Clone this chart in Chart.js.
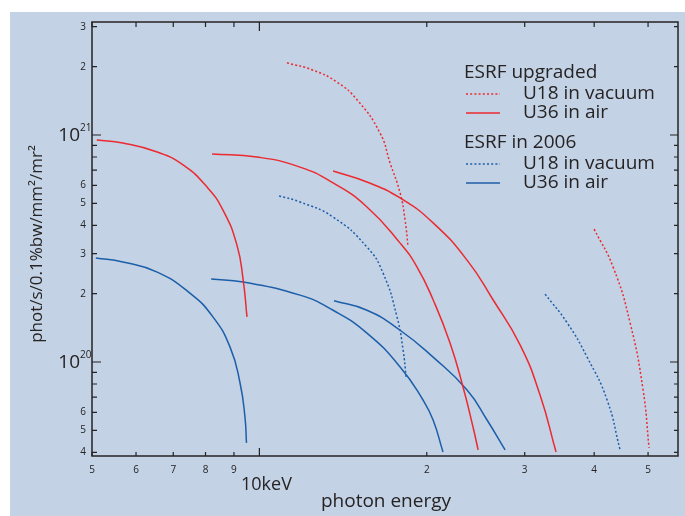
<!DOCTYPE html>
<html>
<head>
<meta charset="utf-8">
<script src="https://cdn.jsdelivr.net/npm/chart.js@4.4.1/dist/chart.umd.min.js"></script>
<style>
body{margin:0;background:#fff;}
</style>
</head>
<body>
<canvas id="myChart" width="685" height="516"></canvas>
<script>
// photon energy in keV, brilliance in phot/s/0.1%bw/mm2/mr2
let newU36aE=[5.10,5.68,6.55,7.29,8.05,8.60,9.11,9.35,9.50]
let newU36aF=[9.50e20,9.22e20,8.42e20,7.38e20,5.90e20,4.67e20,3.28e20,2.30e20,1.58e20]
let newU36bE=[8.22,9.90,11.83,13.57,15.61,17.91,19.21,20.53,22.03,23.24,24.22,24.74]
let newU36bF=[8.25e20,8.00e20,7.22e20,6.15e20,4.82e20,3.34e20,2.62e20,1.88e20,1.21e20,7.76e19,5.17e19,4.10e19]
let newU36cE=[13.57,15.61,17.91,20.53,23.63,26.31,29.43,31.97,34.16]
let newU36cF=[6.94e20,6.21e20,5.28e20,4.10e20,2.81e20,1.88e20,1.19e20,7.15e19,4.01e19]
let newU18aE=[11.21,12.49,13.79,14.98,16.48,17.18,17.91,18.28,18.51]
let newU18aF=[2.08e21,1.93e21,1.71e21,1.43e21,1.02e21,7.53e20,5.55e20,4.22e20,3.21e20]
let newU18bE=[39.99,43.26,46.41,48.98,50.21]
let newU18bF=[3.85e20,2.62e20,1.49e20,7.53e19,4.18e19]

let oldU36aE=[5.08,5.68,6.55,7.50,8.25,8.86,9.23,9.42,9.48]
let oldU36aF=[2.87e20,2.76e20,2.49e20,2.01e20,1.58e20,1.16e20,8.08e19,5.72e19,4.40e19]
let oldU36bE=[8.19,9.35,11.83,13.57,15.61,17.91,19.69,20.53,21.39]
let oldU36bF=[2.32e20,2.25e20,1.97e20,1.69e20,1.34e20,9.51e19,6.80e19,5.55e19,4.01e19]
let oldU36cE=[13.62,15.61,17.91,20.53,23.63,25.67,27.66]
let oldU36cF=[1.86e20,1.69e20,1.38e20,1.05e20,7.53e19,5.55e19,4.10e19]
let oldU18aE=[10.85,11.83,13.57,15.61,16.68,17.68,18.13,18.36]
let oldU18aF=[5.39e20,5.07e20,4.35e20,3.21e20,2.47e20,1.58e20,1.13e20,8.59e19]
let oldU18bE=[32.64,35.75,38.85,42.20,44.53]
let oldU18bF=[1.99e20,1.49e20,1.05e20,6.80e19,4.10e19]

let xTickVals=[5,6,7,8,9,10,20,30,40,50]
let xTickLabels=['5','6','7','8','9','','2','3','4','5']
let yTickVals=[4e19,5e19,6e19,7e19,8e19,9e19,1e20,2e20,3e20,4e20,5e20,6e20,7e20,8e20,9e20,1e21,2e21,3e21]
let yTickLabels=['4','5','6','','','','10^20','2','3','4','5','6','','','','10^21','2','3']

let legendGroups=['ESRF upgraded','ESRF in 2006']
let legendItems=['U18 in vacuum','U36 in air']

const RED='#ec2a30'
const BLUE='#1c5ea9'
const INK='#262324'
const FONT='"Open Sans", sans-serif'

function pts(E,F){
    return E.map((e,i)=>({x:e,y:F[i]}))
}
function ds(E,F,color,dotted){
    return {
        data:pts(E,F),
        borderColor:color,
        borderWidth:1.5,
        borderDash:dotted?[2,2.2]:[],
        pointRadius:0,
        fill:false,
        tension:0.5
    }
}

const frame={
    id:'frame',
    beforeDraw(ch){
        let c=ch.ctx
        c.save()
        c.fillStyle='#c3d2e4'
        c.fillRect(10,12,675,504)
        c.restore()
    },
    afterDraw(ch){
        let c=ch.ctx
        let a=ch.chartArea
        let xs=ch.scales.x
        let ys=ch.scales.y
        c.save()
        c.strokeStyle=INK
        c.fillStyle=INK
        c.lineWidth=1.5
        c.strokeRect(a.left,a.top,a.right-a.left,a.bottom-a.top)
        c.lineWidth=1.2

        // x ticks, bottom and top, pointing inwards
        xTickVals.forEach((v,i)=>{
            let px=xs.getPixelForValue(v)
            let big=(v==10)
            c.beginPath()
            c.moveTo(px,a.bottom);c.lineTo(px,a.bottom-(big?8:4))
            c.moveTo(px,a.top);c.lineTo(px,a.top+(big?9:5))
            c.stroke()
            c.font='10px '+FONT
            c.textAlign='center'
            c.textBaseline='middle'
            c.fillText(xTickLabels[i],px,470)
        })

        // y ticks, left and right
        yTickVals.forEach((v,i)=>{
            let py=ys.getPixelForValue(v)
            let lab=yTickLabels[i]
            let big=lab.indexOf('^')>=0
            c.beginPath()
            c.moveTo(a.left,py);c.lineTo(a.left+(big?9:5),py)
            c.moveTo(a.right,py);c.lineTo(a.right-(big?8:4),py)
            c.stroke()
            c.textBaseline='middle'
            if(big){
                let parts=lab.split('^')
                c.font='19px '+FONT
                c.textAlign='right'
                c.fillText(parts[0],80,py+1)
                c.font='10px '+FONT
                c.textAlign='left'
                c.fillText(parts[1],80,py-7)
            }else{
                c.font='10px '+FONT
                c.textAlign='right'
                c.fillText(lab,86,py)
            }
        })

        // axis titles
        c.font='18px '+FONT
        c.textAlign='left'
        c.textBaseline='middle'
        c.fillText('10keV',241,485)
        c.font='19px '+FONT
        c.textAlign='center'
        c.fillText('photon energy',386,502)
        c.font='17px '+FONT
        c.save()
        c.translate(37,244)
        c.rotate(-Math.PI/2)
        c.fillText('phot/s/0.1%bw/mm\u00b2/mr\u00b2',0,0)
        c.restore()

        // legend
        let colors=[RED,BLUE]
        let groupY=[73,143]
        legendGroups.forEach((g,gi)=>{
            c.font='19px '+FONT
            c.textAlign='left'
            c.fillStyle=INK
            c.fillText(g,464,groupY[gi])
            legendItems.forEach((it,ii)=>{
                let y=groupY[gi]+21+ii*19
                c.strokeStyle=colors[gi]
                c.lineWidth=1.5
                c.setLineDash(ii==0?[2,2.2]:[])
                c.beginPath()
                c.moveTo(466,y);c.lineTo(500,y)
                c.stroke()
                c.setLineDash([])
                c.fillText(it,523,y)
            })
        })
        c.restore()
    }
}

new Chart(document.getElementById('myChart'),{
    type:'line',
    data:{
        datasets:[
            ds(newU36aE,newU36aF,RED,false),
            ds(newU36bE,newU36bF,RED,false),
            ds(newU36cE,newU36cF,RED,false),
            ds(newU18aE,newU18aF,RED,true),
            ds(newU18bE,newU18bF,RED,true),
            ds(oldU36aE,oldU36aF,BLUE,false),
            ds(oldU36bE,oldU36bF,BLUE,false),
            ds(oldU36cE,oldU36cF,BLUE,false),
            ds(oldU18aE,oldU18aF,BLUE,true),
            ds(oldU18bE,oldU18bF,BLUE,true)
        ]
    },
    options:{
        responsive:false,
        animation:false,
        devicePixelRatio:1,
        layout:{padding:{left:92,top:22,right:7,bottom:60}},
        plugins:{legend:{display:false},tooltip:{enabled:false}},
        scales:{
            x:{type:'logarithmic',min:5,max:56.6,display:false},
            y:{type:'logarithmic',min:3.853e19,max:3.147e21,display:false}
        }
    },
    plugins:[frame]
})
</script>
</body>
</html>
